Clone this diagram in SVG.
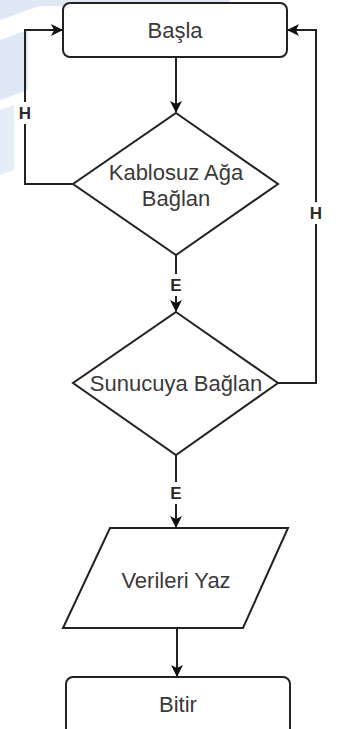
<svg xmlns="http://www.w3.org/2000/svg" width="341" height="729" viewBox="0 0 341 729">
  <style>
    .shape { fill: #ffffff; stroke: #222222; stroke-width: 2; }
    .edge { fill: none; stroke: #222222; stroke-width: 2; }
    .txt { font-family: "Liberation Sans", Arial, sans-serif; font-size: 22px; fill: #3a3a3a; text-anchor: middle; dominant-baseline: central; }
    .lbl { font-family: "Liberation Sans", Arial, sans-serif; font-size: 17px; font-weight: bold; fill: #2a2a2a; text-anchor: middle; dominant-baseline: central; }
    .lblbg { fill: #ffffff; }
    .wm { fill: #dfe8f4; }
  </style>
  <defs>
    <marker id="arrow" viewBox="0 0 12 12" refX="11" refY="6" markerWidth="12" markerHeight="12" markerUnits="userSpaceOnUse" orient="auto">
      <path d="M0,0 L12,6 L0,12 L3,6 Z" fill="#111111"/>
    </marker>
  </defs>

  <rect width="341" height="729" fill="#ffffff"/>

  <!-- faint background decoration -->
  <g id="background">
    <polygon class="wm" points="0,0 230,0 230,6 40,6 0,20"/>
    <polygon class="wm" points="0,40 28,30 28,90 0,100"/>
    <polygon class="wm" points="0,110 14,105 14,170 0,175" opacity="0.8"/>
  </g>

  <!-- connectors -->
  <g id="connectors">
    <line class="edge" x1="176" y1="57" x2="176" y2="112" marker-end="url(#arrow)"/>
    <polyline class="edge" points="73,184 25,184 25,30 62,30" marker-end="url(#arrow)"/>
    <line class="edge" x1="176" y1="255" x2="176" y2="311" marker-end="url(#arrow)"/>
    <polyline class="edge" points="278,383 316,383 316,30 288,30" marker-end="url(#arrow)"/>
    <line class="edge" x1="176" y1="455" x2="176" y2="527" marker-end="url(#arrow)"/>
    <line class="edge" x1="177" y1="628" x2="177" y2="676" marker-end="url(#arrow)"/>

    <rect class="lblbg" x="17" y="102" width="16" height="22"/>
    <text class="lbl" x="25" y="113">H</text>
    <rect class="lblbg" x="308" y="202" width="16" height="22"/>
    <text class="lbl" x="316" y="213">H</text>
    <rect class="lblbg" x="168" y="274" width="16" height="22"/>
    <text class="lbl" x="176" y="285">E</text>
    <rect class="lblbg" x="168" y="482" width="16" height="22"/>
    <text class="lbl" x="176" y="493">E</text>
  </g>

  <g id="start">
    <rect class="shape" x="63" y="3" width="224" height="54" rx="7"/>
    <text class="txt" x="175" y="30">Başla</text>
  </g>

  <g id="wifi">
    <polygon class="shape" points="176,113 278,184 176,255 73,184"/>
    <text class="txt" x="176" y="172">Kablosuz Ağa</text>
    <text class="txt" x="176" y="198">Bağlan</text>
  </g>

  <g id="server">
    <polygon class="shape" points="176,312 278,383 176,455 73,383"/>
    <text class="txt" x="176" y="383">Sunucuya Bağlan</text>
  </g>

  <g id="write">
    <polygon class="shape" points="110,528 288,528 243,628 63,628"/>
    <text class="txt" x="176" y="580">Verileri Yaz</text>
  </g>

  <g id="end">
    <rect class="shape" x="66" y="677" width="224" height="64" rx="7"/>
    <text class="txt" x="178" y="704">Bitir</text>
  </g>
</svg>
